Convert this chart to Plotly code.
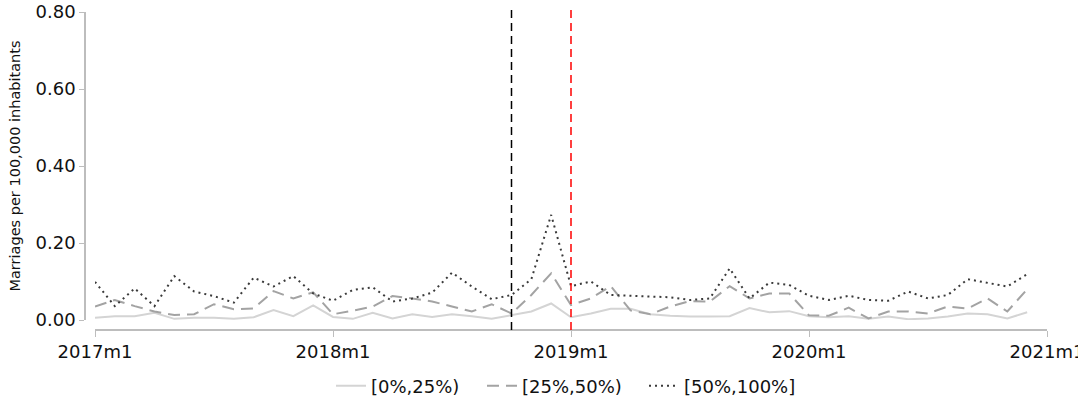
import plotly.graph_objects as go

# Monthly series, 2017m1 .. 2020m12 (month index 0 = 2017m1)
months = [f"{y}m{m}" for y in range(2017, 2021) for m in range(1, 13)]

share_0_25 = [0.006, 0.010, 0.010, 0.019, 0.003, 0.006, 0.006, 0.003, 0.007, 0.026, 0.010, 0.038,
              0.008, 0.003, 0.019, 0.004, 0.015, 0.008, 0.015, 0.010, 0.003, 0.013, 0.022, 0.043,
              0.007, 0.017, 0.029, 0.029, 0.015, 0.011, 0.009, 0.009, 0.010, 0.031, 0.020, 0.023,
              0.010, 0.007, 0.010, 0.003, 0.009, 0.002, 0.004, 0.009, 0.017, 0.015, 0.004, 0.020]

share_25_50 = [0.035, 0.052, 0.036, 0.022, 0.013, 0.015, 0.041, 0.028, 0.030, 0.075, 0.056, 0.072,
               0.015, 0.024, 0.035, 0.062, 0.056, 0.048, 0.035, 0.022, 0.041, 0.017, 0.065, 0.121,
               0.039, 0.056, 0.088, 0.025, 0.015, 0.035, 0.049, 0.048, 0.088, 0.056, 0.069, 0.069,
               0.012, 0.011, 0.032, 0.004, 0.022, 0.022, 0.017, 0.035, 0.030, 0.056, 0.022, 0.080]

share_50_100 = [0.099, 0.036, 0.082, 0.036, 0.114, 0.074, 0.062, 0.045, 0.110, 0.087, 0.114, 0.069,
                0.050, 0.078, 0.085, 0.048, 0.056, 0.071, 0.123, 0.087, 0.054, 0.065, 0.106, 0.273,
                0.088, 0.100, 0.065, 0.063, 0.061, 0.059, 0.052, 0.056, 0.134, 0.056, 0.097, 0.091,
                0.063, 0.052, 0.063, 0.052, 0.050, 0.074, 0.056, 0.065, 0.106, 0.097, 0.087, 0.119]

series_names = ["[0%,25%)", "[25%,50%)", "[50%,100%]"]

x_tick_vals = [0, 12, 24, 36, 48]
x_tick_text = ["2017m1", "2018m1", "2019m1", "2020m1", "2021m1"]
y_tick_vals = [0.0, 0.2, 0.4, 0.6, 0.8]

event_black = months.index("2018m10")
event_red = months.index("2019m1")

x = list(range(len(months)))

FONT = "DejaVu Sans, Verdana, sans-serif"
AXIS_GREY = "#bdbdbd"
TEXT = "#111111"
W, H = 1078, 400

styles = [
    dict(color="#d4d4d4", width=2, dash="solid"),
    dict(color="#a3a3a3", width=2, dash="12px,7px"),
    dict(color="#3a3a3a", width=2, dash="2px,4px"),
]
legend_ids = ["legend", "legend2", "legend3"]
# left edge (px) of each legend entry along the bottom row
legend_left_px = [331, 482, 644]

fig = go.Figure()
for name, vals, style, lid in zip(series_names, [share_0_25, share_25_50, share_50_100],
                                  styles, legend_ids):
    fig.add_trace(go.Scatter(x=x, y=vals, mode="lines", name=name, line=style, legend=lid))

# Event markers
for pos, col in [(event_black, "#000000"), (event_red, "#ff0000")]:
    fig.add_shape(type="line", xref="x", yref="paper", x0=pos, x1=pos, y0=0, y1=1,
                  line=dict(color=col, width=1.5, dash="8px,5px"), layer="above")

ml, mr, mt, mb = 85, 31, 5, 70
pw, ph = W - ml - mr, H - mt - mb

legend_common = dict(orientation="h", xref="container", yref="container",
                     xanchor="left", y=(H - 386) / H, yanchor="middle",
                     font=dict(size=18, family=FONT, color=TEXT), itemwidth=30,
                     bgcolor="rgba(0,0,0,0)")
legends = {lid: dict(legend_common, x=px / W) for lid, px in zip(legend_ids, legend_left_px)}

fig.update_layout(
    width=W, height=H,
    margin=dict(l=ml, r=mr, t=mt, b=mb, autoexpand=False),
    paper_bgcolor="white", plot_bgcolor="white",
    font=dict(family=FONT, color=TEXT, size=18),
    showlegend=True,
    **legends,
    xaxis=dict(
        range=[0, 48], domain=[10 / pw, 1], anchor="free", position=0,
        showgrid=False, zeroline=False,
        showline=True, linecolor=AXIS_GREY, linewidth=1.5,
        ticks="outside", ticklen=6, tickcolor=AXIS_GREY, tickwidth=1.2,
        tickvals=x_tick_vals, ticktext=x_tick_text, ticklabeloverflow="allow",
        tickfont=dict(size=18, family=FONT, color=TEXT),
    ),
    yaxis=dict(
        range=[0, 0.8], domain=[10 / ph, (330 - 12) / ph], anchor="free", position=0,
        showgrid=False, zeroline=False,
        showline=True, linecolor=AXIS_GREY, linewidth=1.5,
        ticks="outside", ticklen=5, tickcolor=AXIS_GREY, tickwidth=1.2,
        tickvals=y_tick_vals, tickformat=".2f",
        tickfont=dict(size=18, family=FONT, color=TEXT),
        title=dict(text="Marriages per 100,000 inhabitants",
                   font=dict(size=14.5, family=FONT, color=TEXT), standoff=10),
        automargin=False,
    ),
)

fig.write_html("out.html")
